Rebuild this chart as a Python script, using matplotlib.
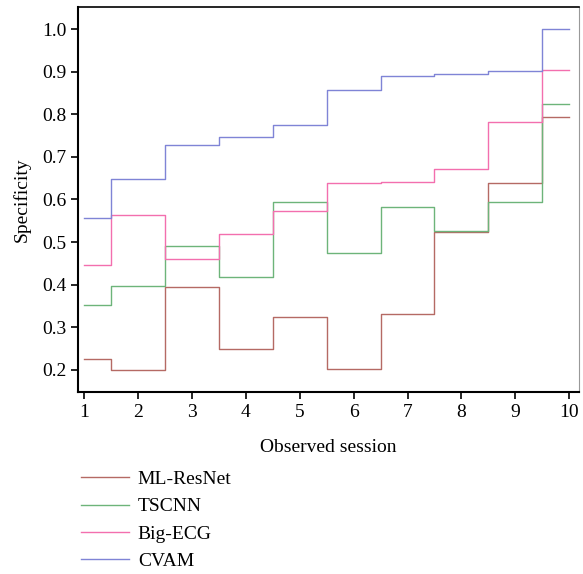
import matplotlib.pyplot as plt
import numpy as np

plt.rcParams['font.family'] = ['Liberation Serif', 'DejaVu Serif']

sessions = np.arange(1, 11)
ml_resnet = [0.225, 0.200, 0.395, 0.249, 0.324, 0.202, 0.331, 0.524, 0.639, 0.794]
tscnn = [0.352, 0.398, 0.490, 0.418, 0.595, 0.474, 0.583, 0.527, 0.595, 0.825]
big_ecg = [0.446, 0.563, 0.460, 0.520, 0.574, 0.639, 0.642, 0.671, 0.781, 0.904]
cvam = [0.557, 0.648, 0.727, 0.747, 0.774, 0.856, 0.890, 0.894, 0.901, 1.000]

names = ['ML-ResNet', 'TSCNN', 'Big-ECG', 'CVAM']
colors = ['#b56a64', '#6db47a', '#f36fae', '#7f84d6']

fig = plt.figure(figsize=(5.83, 5.74), dpi=100)
ax = fig.add_axes([78/583, 1-392/574, (579-78)/583, (392-7)/574])

for vals, name, c in zip([ml_resnet, tscnn, big_ecg, cvam], names, colors):
    ax.step(sessions, vals, where='mid', color=c, lw=1.0, label=name)

ax.set_xlim(0.89, 10.18)
ax.set_ylim(0.148, 1.052)
ax.set_xticks(sessions)
ax.set_yticks(np.arange(0.2, 1.01, 0.1))
ax.set_yticklabels(['%.1f' % v for v in np.arange(0.2, 1.01, 0.1)])
ax.tick_params(labelsize=14, direction='out', length=5, width=1.2)

ax.spines['left'].set_linewidth(1.5)
ax.spines['bottom'].set_linewidth(1.5)
ax.spines['top'].set_linewidth(1.2)
ax.spines['right'].set_color('#999999')
ax.spines['right'].set_linewidth(0.8)

ax.set_xlabel('Observed session', fontsize=14, labelpad=13)
ax.set_ylabel('Specificity', fontsize=14, labelpad=8)

h, l = ax.get_legend_handles_labels()
fig.legend(h, l, loc='upper left', bbox_to_anchor=(63/583, 1-453/574),
           frameon=False, fontsize=14, handlelength=2.5, labelspacing=0.5,
           handletextpad=0.45)

plt.savefig('out.png', dpi=100)
